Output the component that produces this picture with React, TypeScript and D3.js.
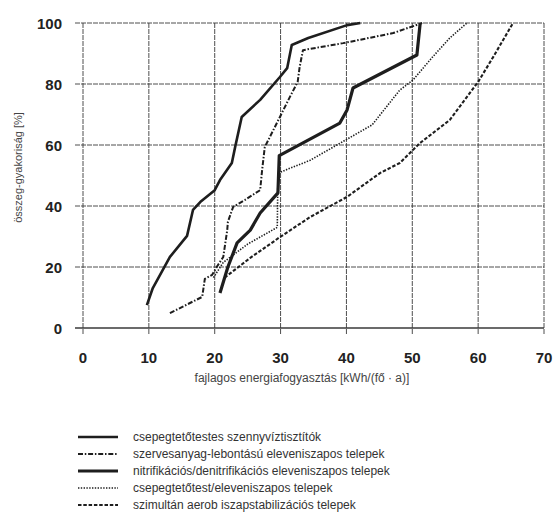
import React from "react";
import * as d3 from "d3";

const xTicks = [0, 10, 20, 30, 40, 50, 60, 70];
const yTicks = [0, 20, 40, 60, 80, 100];

const seriesNames = [
  "csepegtetőtestes szennyvíztisztítók",
  "szervesanyag-lebontású eleveniszapos telepek",
  "nitrifikációs/denitrifikációs eleveniszapos telepek",
  "csepegtetőtest/eleveniszapos telepek",
  "szimultán aerob iszapstabilizációs telepek",
];

// [energy, cumulative %]
const csepegtetotestes: [number, number][] = [
  [9.7, 7.5], [10.6, 13.1], [13.2, 23.3], [15.8, 30.2], [16.7, 38.7], [17.8, 41.3],
  [20.0, 45.2], [20.8, 48.5], [22.6, 54.1], [23.1, 59.3], [24.1, 69.2], [26.9, 74.8],
  [29.9, 82.3], [31.0, 85.2], [31.7, 92.8], [34.2, 95.1], [40.1, 99.3], [42.1, 100],
];
const szervesanyag: [number, number][] = [
  [13.2, 4.9], [18.1, 10.2], [18.5, 16.1], [19.6, 17.4], [20.3, 20], [21.3, 23.3],
  [21.9, 32.1], [22.0, 34.8], [22.8, 39.7], [24.6, 42], [26.9, 45.2], [27.2, 51.8],
  [27.6, 59.3], [29.9, 69.2], [31.4, 75.7], [32.6, 80.7], [32.9, 85.6], [33.4, 91.1],
  [39.5, 93.4], [47.1, 96.7], [51.5, 100],
];
const nitrifikacios: [number, number][] = [
  [20.8, 11.5], [22.0, 20], [23.4, 27.9], [25.4, 32.1], [26.9, 37.7], [29.6, 44.3],
  [29.8, 56.5], [39.0, 67.2], [40.1, 71.5], [41.0, 78.7], [50.7, 89.5], [51.2, 100],
];
const csepegtetotest: [number, number][] = [
  [19.8, 16.5], [21.3, 21.5], [25.0, 27.5], [29.5, 33], [29.6, 50.8], [34.5, 55],
  [43.9, 66.6], [48.1, 78], [50.1, 81.3], [53.1, 88.9], [55.7, 95.1], [58.3, 100],
];
const szimultan: [number, number][] = [
  [21.5, 16.5], [25.4, 23], [29.9, 29.8], [34.5, 36.4], [40.1, 43], [45.1, 50.8],
  [48.1, 54.1], [51.2, 60.7], [55.7, 68.2], [60.0, 80.7], [62.3, 88.9], [65.3, 100],
];

const allSeries = [csepegtetotestes, szervesanyag, nitrifikacios, csepegtetotest, szimultan];
const styles = [
  { w: 2.6, dash: "none" },
  { w: 2, dash: "5,1.8,1.5,1.8" },
  { w: 3.2, dash: "none" },
  { w: 1.6, dash: "1.4,1.4" },
  { w: 2.1, dash: "3.5,1.8" },
];

export default function App() {
  const x = d3.scaleLinear().domain([0, 70]).range([83, 544]);
  const y = d3.scaleLinear().domain([0, 100]).range([328, 23]);
  const line = d3
    .line<[number, number]>()
    .x((d) => x(d[0]))
    .y((d) => y(d[1]));
  const font = "'Liberation Sans', Arial, sans-serif";
  const ink = "#1e1e1e";

  return (
    <svg
      width={555}
      height={531}
      style={{ position: "absolute", left: 0, top: 0, background: "#fff" }}
      fontFamily={font}
    >
      {/* grid */}
      {yTicks.map((t) => (
        <line
          key={"h" + t}
          x1={75}
          x2={x(70)}
          y1={y(t)}
          y2={y(t)}
          stroke="#3a3a3a"
          strokeWidth={t === 0 ? 1.3 : 0.9}
          strokeDasharray={t === 0 ? "none" : "5,1"}
        />
      ))}
      {xTicks.map((t) => (
        <line
          key={"v" + t}
          x1={x(t)}
          x2={x(t)}
          y1={y(100)}
          y2={y(0) + 7}
          stroke="#3a3a3a"
          strokeWidth={0.9}
          strokeDasharray="5,1"
        />
      ))}
      {/* tick labels */}
      {yTicks.map((t) => (
        <text
          key={"yl" + t}
          x={62}
          y={y(t)}
          textAnchor="end"
          dominantBaseline="central"
          fontSize={15}
          fontWeight="bold"
          fill="#222"
        >
          {t}
        </text>
      ))}
      {xTicks.map((t) => (
        <text
          key={"xl" + t}
          x={x(t)}
          y={363}
          textAnchor="middle"
          fontSize={15}
          fontWeight="bold"
          fill="#222"
        >
          {t}
        </text>
      ))}
      {/* axis titles */}
      <text
        transform={`translate(22,${(y(0) + y(100)) / 2 - 8}) rotate(-90)`}
        textAnchor="middle"
        fontSize={11}
        fill="#444"
      >
        összeg-gyakoriság [%]
      </text>
      <text x={302} y={382} textAnchor="middle" fontSize={12} fill="#444">
        fajlagos energiafogyasztás [kWh/(fő · a)]
      </text>
      {/* series */}
      {allSeries.map((s, i) => (
        <path
          key={"s" + i}
          d={line(s) || ""}
          fill="none"
          stroke={ink}
          strokeWidth={styles[i].w}
          strokeDasharray={styles[i].dash}
          strokeLinejoin="round"
        />
      ))}
      {/* legend */}
      {seriesNames.map((n, i) => {
        const ly = 437 + i * 17;
        return (
          <g key={"lg" + i}>
            <line
              x1={78}
              x2={118}
              y1={ly}
              y2={ly}
              stroke={ink}
              strokeWidth={styles[i].w}
              strokeDasharray={styles[i].dash}
            />
            <text x={133} y={ly} dominantBaseline="central" fontSize={12} fill="#333">
              {n}
            </text>
          </g>
        );
      })}
    </svg>
  );
}
